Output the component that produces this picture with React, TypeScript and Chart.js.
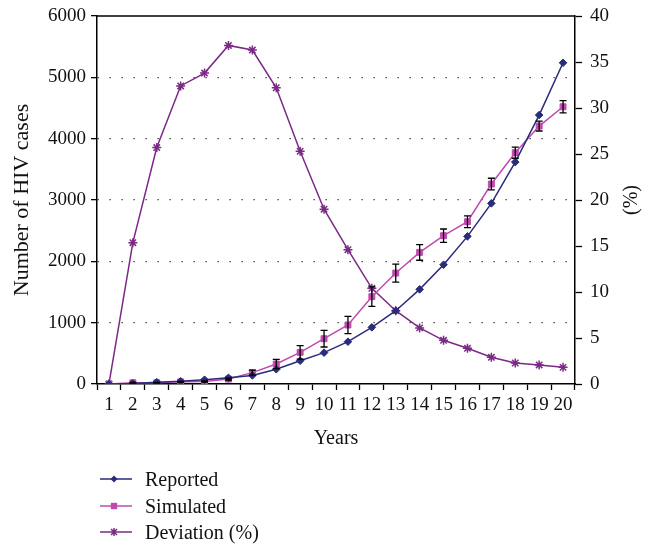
import React, { useEffect, useRef } from "react";
import { Chart, registerables } from "chart.js";

Chart.register(...registerables);

const years = ["1","2","3","4","5","6","7","8","9","10","11","12","13","14","15","16","17","18","19","20"];
const reported = [0, 10, 30, 45, 70, 100, 140, 240, 380, 511, 690, 924, 1195, 1543, 1945, 2407, 2945, 3618, 4385, 5237];
const simulated = [0, 20, 20, 35, 40, 80, 185, 326, 516, 739, 962, 1424, 1809, 2146, 2418, 2646, 3260, 3771, 4205, 4520];
const simulatedErr = [0, 5, 5, 8, 10, 15, 40, 75, 110, 136, 140, 158, 147, 128, 109, 95, 95, 90, 80, 100];
const deviation = [0, 15.36, 25.7, 32.4, 33.8, 36.8, 36.3, 32.2, 25.3, 19.0, 14.6, 10.4, 7.97, 6.1, 4.75, 3.88, 2.9, 2.28, 2.07, 1.81];
const leftTicksMax = 6000;
const rightTicksMax = 40;

const C_REP = "#2a2b7a";
const C_SIM = "#c04ab0";
const C_DEV = "#7a2a85";
const FONT = "'Liberation Serif', 'Times New Roman', serif";

function marker(ctx: CanvasRenderingContext2D, style: string, x: number, y: number, r: number, color: string) {
  ctx.save();
  ctx.fillStyle = color;
  ctx.strokeStyle = color;
  ctx.lineWidth = 1.5;
  ctx.beginPath();
  if (style === "rectRot") {
    ctx.moveTo(x, y - r); ctx.lineTo(x + r, y); ctx.lineTo(x, y + r); ctx.lineTo(x - r, y); ctx.closePath();
    ctx.fill();
  } else if (style === "rect") {
    ctx.rect(x - r, y - r, 2 * r, 2 * r);
    ctx.fill();
  } else {
    const d = r * 0.75;
    ctx.moveTo(x - d, y - d); ctx.lineTo(x + d, y + d);
    ctx.moveTo(x - d, y + d); ctx.lineTo(x + d, y - d);
    ctx.moveTo(x, y - r); ctx.lineTo(x, y + r);
    ctx.stroke();
  }
  ctx.restore();
}

const extras = {
  id: "extras",
  afterDatasetsDraw(chart: any) {
    const ctx = chart.ctx;
    const y = chart.scales.y;
    const meta = chart.getDatasetMeta(1);
    ctx.save();
    ctx.strokeStyle = "#000";
    ctx.lineWidth = 1.3;
    meta.data.forEach((pt: any, i: number) => {
      const e = simulatedErr[i];
      if (!e) return;
      const yt = y.getPixelForValue(simulated[i] + e);
      const yb = y.getPixelForValue(simulated[i] - e);
      ctx.beginPath();
      ctx.moveTo(pt.x, yt); ctx.lineTo(pt.x, yb);
      ctx.moveTo(pt.x - 3.5, yt); ctx.lineTo(pt.x + 3.5, yt);
      ctx.moveTo(pt.x - 3.5, yb); ctx.lineTo(pt.x + 3.5, yb);
      ctx.stroke();
    });
    ctx.restore();
  },
  afterDraw(chart: any) {
    const ctx = chart.ctx;
    const a = chart.chartArea;
    ctx.save();
    ctx.strokeStyle = "#000";
    ctx.lineWidth = 1.5;
    ctx.beginPath();
    ctx.moveTo(a.left, a.top);
    ctx.lineTo(a.right, a.top);
    ctx.stroke();
    ctx.fillStyle = "#111";
    ctx.font = `20px ${FONT}`;
    ctx.textAlign = "center";
    ctx.textBaseline = "middle";
    ctx.translate(632, (a.top + a.bottom) / 2);
    ctx.rotate(-Math.PI / 2);
    ctx.fillText("(%)", 0, 0);
    ctx.restore();

    const items = [
      { label: "Reported", color: C_REP, style: "rectRot", r: 3.5 },
      { label: "Simulated", color: C_SIM, style: "rect", r: 3.2 },
      { label: "Deviation (%)", color: C_DEV, style: "star", r: 4 },
    ];
    const rows = [479, 506, 532];
    items.forEach((it, i) => {
      const yy = rows[i];
      ctx.save();
      ctx.strokeStyle = it.color;
      ctx.lineWidth = 1.5;
      ctx.beginPath();
      ctx.moveTo(100, yy);
      ctx.lineTo(132, yy);
      ctx.stroke();
      marker(ctx, it.style, 114, yy, it.r, it.color);
      ctx.fillStyle = "#111";
      ctx.font = `20px ${FONT}`;
      ctx.textAlign = "left";
      ctx.textBaseline = "middle";
      ctx.fillText(it.label, 145, yy + 2);
      ctx.restore();
    });
  },
};

export default function App() {
  const ref = useRef<HTMLCanvasElement>(null);
  useEffect(() => {
    if (!ref.current) return;
    const chart = new Chart(ref.current, {
      type: "line",
      data: {
        labels: years,
        datasets: [
          {
            label: "Reported",
            data: reported,
            yAxisID: "y",
            borderColor: C_REP,
            backgroundColor: C_REP,
            borderWidth: 1.5,
            pointStyle: "rectRot",
            pointRadius: 3.8,
            pointBorderWidth: 1,
            tension: 0,
          },
          {
            label: "Simulated",
            data: simulated,
            yAxisID: "y",
            borderColor: C_SIM,
            backgroundColor: C_SIM,
            borderWidth: 1.5,
            pointStyle: "rect",
            pointRadius: 4.2,
            pointBorderWidth: 1,
            tension: 0,
          },
          {
            label: "Deviation (%)",
            data: deviation,
            yAxisID: "y1",
            borderColor: C_DEV,
            backgroundColor: C_DEV,
            borderWidth: 1.5,
            pointStyle: "star",
            pointRadius: 4.5,
            pointBorderWidth: 1.5,
            tension: 0,
          },
        ],
      },
      options: {
        animation: false,
        responsive: true,
        maintainAspectRatio: false,
        layout: { padding: { top: 16, bottom: 94, left: 0, right: 0 } },
        plugins: { legend: { display: false }, tooltip: { enabled: false } },
        scales: {
          x: {
            type: "category",
            offset: true,
            grid: { offset: true, drawOnChartArea: false, drawTicks: true, tickLength: 6, tickColor: "#000", tickWidth: 1.3 },
            border: { color: "#000", width: 1.5 },
            ticks: { color: "#111", font: { family: FONT, size: 19 }, padding: 4, maxRotation: 0, autoSkip: false },
            title: { display: true, text: "Years", color: "#111", font: { family: FONT, size: 20 }, padding: { top: 0, bottom: 0 } },
            afterFit: (s: any) => { s.height = 67; s.paddingLeft = 0; s.paddingRight = 0; },
          },
          y: {
            position: "left",
            min: 0,
            max: leftTicksMax,
            ticks: { stepSize: 1000, color: "#111", font: { family: FONT, size: 19 }, padding: 5, callback: (v: any) => String(v) },
            grid: {
              drawOnChartArea: true,
              color: (c: any) => (c.tick && (c.tick.value === 0 || c.tick.value === leftTicksMax) ? "rgba(0,0,0,0)" : "#333"),
              lineWidth: 1.3,
              tickLength: 6,
              tickColor: "#000",
              tickWidth: 1.3,
            },
            border: { color: "#000", width: 1.5, dash: [1.3, 10.7] },
            title: { display: true, text: "Number of HIV cases", color: "#111", font: { family: FONT, size: 22 }, padding: { top: 9, bottom: 0 } },
            afterFit: (s: any) => { s.width = 97; s.paddingTop = 0; s.paddingBottom = 0; },
          },
          y1: {
            position: "right",
            min: 0,
            max: rightTicksMax,
            ticks: { stepSize: 5, color: "#111", font: { family: FONT, size: 19 }, padding: 8, callback: (v: any) => String(v) },
            grid: { drawOnChartArea: false, tickLength: 7, tickColor: "#000", tickWidth: 1.3 },
            border: { color: "#000", width: 1.5 },
            afterFit: (s: any) => { s.width = 72; s.paddingTop = 0; s.paddingBottom = 0; },
          },
        },
      },
      plugins: [extras],
    } as any);
    return () => chart.destroy();
  }, []);
  return (
    <div style={{ position: "absolute", left: 0, top: 0, width: 647, height: 545 }}>
      <canvas ref={ref} />
    </div>
  );
}
